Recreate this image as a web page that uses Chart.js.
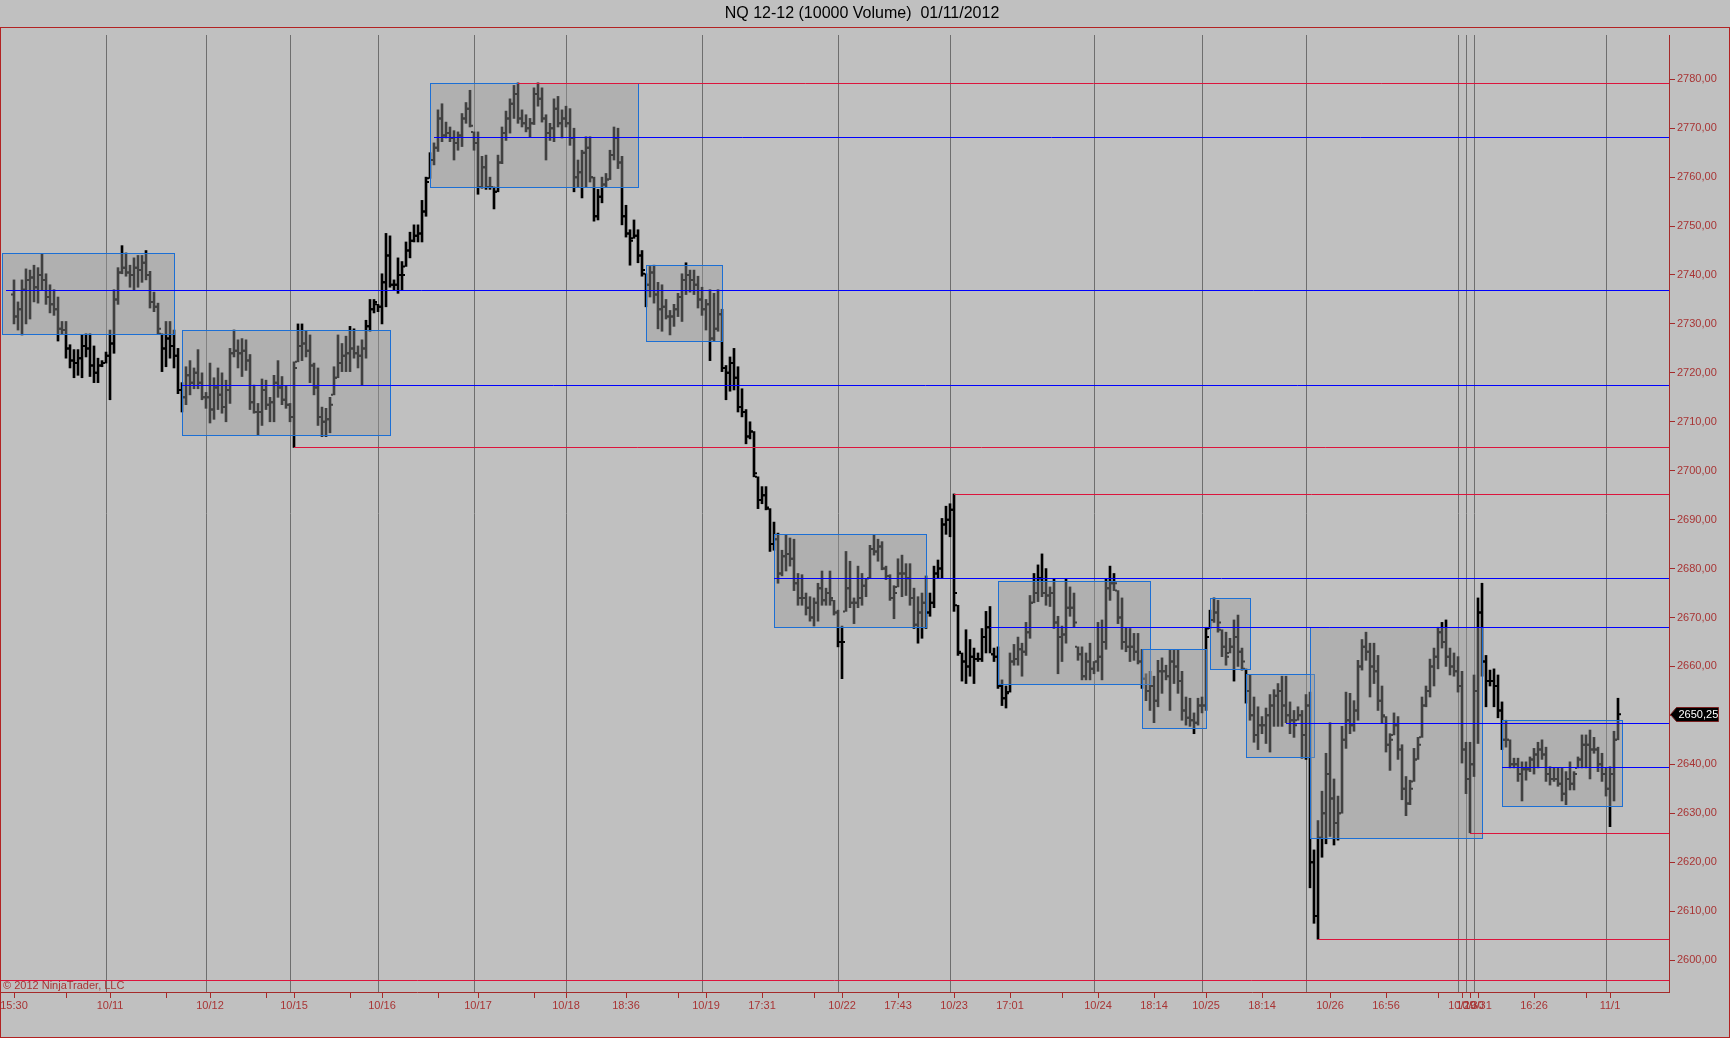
<!DOCTYPE html>
<html>
<head>
<meta charset="utf-8">
<title>NQ 12-12 (10000 Volume) 01/11/2012</title>
<script src="https://cdn.jsdelivr.net/npm/chart.js@4.4.1/dist/chart.umd.min.js"></script>
<style>
  html, body { margin: 0; padding: 0; background: #c0c0c0; }
  #wrap { width: 1730px; height: 1038px; position: relative; }
</style>
</head>
<body>
<div id="wrap"><canvas id="chart" width="1730" height="1038"></canvas></div>
<script>
// NQ 12-12, 10000 volume bars, 15:30 10/10 -> 11/1
const chartTitle = 'NQ 12-12 (10000 Volume)  01/11/2012';

const highs = [
  2739, 2734.5, 2739, 2741.25, 2741, 2742, 2741.5, 2744.25, 2740.25, 2738,
  2737, 2735.5, 2730.5, 2730.5, 2725.75, 2724.75, 2724.75, 2727.75, 2728, 2728,
  2725.5, 2723, 2722.5, 2724.25, 2728.75, 2737, 2741.5, 2746, 2744.5, 2742,
  2743.5, 2744, 2744, 2745, 2740.75, 2736.5, 2734.25, 2728, 2730.5, 2730.5,
  2728.75, 2725, 2718, 2721.25, 2722.5, 2721, 2724.75, 2720, 2716, 2722,
  2719, 2721, 2720, 2718.5, 2725, 2728.75, 2726.75, 2727, 2726.75, 2723.75,
  2717.5, 2713.75, 2718.75, 2718.5, 2715, 2719.5, 2722.5, 2719.25, 2717.25, 2713.75,
  2722.25, 2730, 2730, 2728.5, 2727.75, 2722, 2721, 2713, 2712.75, 2715,
  2721.25, 2727.75, 2726, 2727.5, 2729.5, 2729, 2725.5, 2726.75, 2730.75, 2735,
  2735, 2734, 2740.25, 2748.5, 2748, 2739, 2743.5, 2742.75, 2746.75, 2748.75,
  2750.25, 2750.25, 2755.25, 2760, 2765, 2767, 2773.75, 2775, 2771.25, 2770.25,
  2769.5, 2769.25, 2773, 2775.25, 2777.75, 2769.25, 2769.25, 2764.25, 2764.5, 2760,
  2758, 2764.5, 2770.25, 2773.5, 2776, 2778.75, 2779.25, 2773.75, 2772.75, 2772,
  2778.25, 2779.25, 2778.25, 2772.75, 2771, 2776, 2776.5, 2773.75, 2774.5, 2774,
  2770, 2763.5, 2765.5, 2768.25, 2768.25, 2760, 2757.5, 2760, 2760.75, 2765.5,
  2770.25, 2770, 2764.25, 2754.25, 2749.25, 2751.25, 2749.25, 2745, 2740.25, 2741.75,
  2742, 2738.5, 2738, 2735, 2732.75, 2734, 2736.25, 2740.25, 2742.5, 2741,
  2741, 2739.75, 2737.5, 2735, 2737, 2736.25, 2737, 2733, 2721.5, 2723.25,
  2725, 2721.25, 2716.75, 2712.5, 2710, 2708, 2698.75, 2696.75, 2696.75, 2692.25,
  2689.5, 2687.25, 2683.75, 2687, 2686.25, 2686, 2679, 2678.75, 2675, 2674.25,
  2674, 2677, 2679.5, 2676, 2679.5, 2673.5, 2671.5, 2668.25, 2683.5, 2681.5,
  2674, 2680.5, 2679, 2678, 2684.75, 2687, 2686, 2685.5, 2680.5, 2678.75,
  2676.5, 2682, 2682.75, 2681, 2681, 2676, 2674.25, 2675, 2678.5, 2675,
  2680.5, 2681.75, 2690.25, 2692.75, 2693.25, 2695.25, 2672.5, 2662.75, 2667.5, 2665.5,
  2663.75, 2662.75, 2667.75, 2671.25, 2672.25, 2663.75, 2664, 2657.25, 2656, 2662.75,
  2664.5, 2666, 2664.75, 2669, 2674.5, 2679, 2680.75, 2683, 2680, 2676.25,
  2678, 2670.25, 2668.25, 2678, 2676.25, 2675, 2664, 2664, 2662.75, 2664.75,
  2661, 2669, 2669.5, 2678, 2680.5, 2679, 2675.5, 2674, 2668, 2667.75,
  2666.75, 2666.75, 2663.5, 2658.5, 2659, 2658, 2661.25, 2661.75, 2660.25, 2663.5,
  2663.5, 2663.5, 2659, 2653.75, 2653.5, 2650.5, 2653.5, 2653.75, 2668, 2671.5,
  2674, 2673.5, 2667.5, 2667, 2665.75, 2669.5, 2670.5, 2663.75, 2659.5, 2658.25,
  2653.75, 2651.75, 2649.75, 2651.5, 2654.25, 2655.25, 2656.5, 2658, 2658, 2652.75,
  2651, 2651.75, 2651, 2654.25, 2654.75, 2622.5, 2628.5, 2634.5, 2642.25, 2648.5,
  2637, 2633.5, 2647.75, 2654.75, 2654.5, 2653, 2661.25, 2665.5, 2667, 2664.75,
  2664.75, 2662.25, 2656, 2649.75, 2646.25, 2650.5, 2649.75, 2644, 2637.5, 2636.75,
  2643.25, 2645.5, 2653.75, 2656, 2661.5, 2663.75, 2668, 2669, 2669.5, 2663.75,
  2662.75, 2662, 2659, 2644.5, 2644.5, 2658.25, 2674, 2677, 2662.25, 2659.25,
  2659.5, 2658.25, 2652.75, 2649, 2645, 2641.25, 2641.25, 2640.5, 2640.5, 2641.5,
  2643.25, 2644.5, 2645, 2643.5, 2639.5, 2639.25, 2639.25, 2639.25, 2638.5, 2640.5,
  2638.5, 2641.5, 2646, 2646, 2647, 2645.5, 2643.5, 2642.25, 2639.25, 2639.5,
  2646.75, 2653.5
];

const lows = [
  2730, 2728.75, 2727.75, 2730, 2731, 2734.5, 2734.25, 2737, 2734, 2732.25,
  2731.75, 2726.5, 2728, 2723, 2721, 2719, 2719.5, 2719, 2723.25, 2719.25,
  2718, 2718, 2721.25, 2722, 2714.5, 2724, 2734, 2740.25, 2739.75, 2737.5,
  2737, 2737.5, 2738.5, 2739, 2733.25, 2732.5, 2728, 2720.25, 2721.25, 2723,
  2721, 2715.75, 2712, 2713.5, 2715.5, 2716.75, 2716.75, 2714.5, 2712.75, 2709.75,
  2710.5, 2712.5, 2711.75, 2710, 2713.75, 2723.25, 2721, 2719.25, 2720.5, 2712.5,
  2711.75, 2707.25, 2709.25, 2712.5, 2710, 2710, 2715, 2713.5, 2712.75, 2710,
  2704.75, 2722.25, 2722.5, 2723.25, 2718, 2715.5, 2709.25, 2707, 2707, 2707.75,
  2715.5, 2719, 2720.25, 2720.25, 2720.25, 2723, 2721, 2717.5, 2723, 2728.5,
  2732.25, 2732.5, 2730, 2733.5, 2737.5, 2737, 2736.25, 2737, 2741.75, 2743.5,
  2746.75, 2746.75, 2746.75, 2752, 2759.75, 2762.5, 2765.25, 2767.25, 2768, 2767.25,
  2763.5, 2765.5, 2766.25, 2771, 2770.25, 2765.5, 2756.5, 2757.75, 2757.5, 2757.5,
  2753.5, 2757, 2762.75, 2767.5, 2769, 2772, 2771, 2770.25, 2769.25, 2768.25,
  2770.75, 2774.5, 2771.25, 2763.5, 2767.5, 2767.25, 2770.25, 2768, 2770.25, 2766.5,
  2757, 2758, 2755.75, 2758, 2759, 2751, 2751.25, 2754.75, 2758, 2759.5,
  2763.5, 2761.75, 2750.25, 2747.75, 2742, 2747.5, 2742.5, 2739.75, 2733.5, 2735.5,
  2734.25, 2729, 2728.5, 2731, 2727.75, 2729.5, 2731.5, 2730.5, 2736, 2736.5,
  2736, 2733.25, 2731.75, 2728.75, 2722.5, 2726.5, 2728.5, 2720.25, 2714.5, 2716.25,
  2716.5, 2712, 2711, 2705.5, 2706.5, 2698.75, 2692.25, 2693.25, 2692, 2683.5,
  2683.75, 2677, 2678.5, 2679.5, 2680.5, 2675.5, 2672.5, 2672.5, 2670.5, 2669.25,
  2668.25, 2669.25, 2672.5, 2672.5, 2672.5, 2670.5, 2664, 2657.5, 2671.25, 2672,
  2668.75, 2672, 2672.5, 2674.25, 2678, 2682.75, 2681.5, 2679.75, 2677.75, 2673.5,
  2669.75, 2676.25, 2674.25, 2674.5, 2672.5, 2667.75, 2664.75, 2665.75, 2667.75, 2670.25,
  2672, 2678, 2678, 2687, 2686.5, 2671.25, 2662.25, 2657, 2656.5, 2658,
  2656.5, 2661, 2661, 2662.75, 2662.75, 2661, 2655.5, 2652, 2651.5, 2654.75,
  2660.25, 2660.25, 2658, 2662.25, 2665.75, 2673, 2673.25, 2674.25, 2672.5, 2672.25,
  2667.75, 2658.5, 2661, 2664.75, 2670.25, 2668, 2661.25, 2657.25, 2657.25, 2657.25,
  2658.5, 2659, 2657.25, 2663.5, 2673.5, 2675.5, 2668.75, 2663.5, 2663, 2661,
  2661.25, 2660.5, 2655.5, 2653, 2651, 2648.5, 2651.75, 2654.5, 2657.25, 2651,
  2656.5, 2654.5, 2649, 2648, 2647.75, 2646.25, 2648, 2650.5, 2651, 2667.75,
  2669, 2667, 2662, 2660.25, 2662.75, 2657, 2660, 2659.25, 2652.5, 2649,
  2644.5, 2643, 2646.25, 2644.25, 2642.5, 2647.75, 2647.75, 2647.75, 2648.5, 2646.25,
  2645.5, 2649, 2641.25, 2641, 2614.75, 2607.5, 2604.25, 2621, 2623.75, 2625.25,
  2623.5, 2624.5, 2630, 2643.25, 2646.25, 2646.75, 2649, 2659.25, 2661.25, 2653.75,
  2656.5, 2651, 2648.5, 2642.5, 2638.75, 2646, 2641, 2632.75, 2629.5, 2631.75,
  2636.5, 2641, 2645.5, 2651.75, 2653.75, 2656, 2659.5, 2663.75, 2660, 2658.25,
  2658, 2654.75, 2640.25, 2634, 2626, 2637.5, 2644.25, 2658, 2651.75, 2656,
  2651.75, 2649.5, 2643, 2643.5, 2639.25, 2639.25, 2636.5, 2632.5, 2636.75, 2638.5,
  2638, 2639.25, 2641, 2636.5, 2635.75, 2636.5, 2635.5, 2632.5, 2631.75, 2634.75,
  2634.75, 2639.25, 2639.25, 2639.25, 2637, 2642.25, 2638.5, 2636.5, 2633.5, 2627.25,
  2632.5, 2645
];

const opens = [
  2736, 2731.5, 2733, 2737, 2739, 2739.5, 2737.5, 2740, 2739, 2735.5,
  2734, 2733, 2729, 2728.75, 2725, 2722.5, 2722, 2723, 2725.5, 2725,
  2721.5, 2720, 2721.5, 2722, 2723.5, 2726, 2735, 2740.5, 2741.5, 2740.5,
  2740, 2741.5, 2741, 2742.5, 2740, 2734.5, 2733.5, 2728, 2725, 2727,
  2725.5, 2723.5, 2716.5, 2715, 2719.5, 2718, 2720, 2718, 2715, 2715,
  2712.5, 2717, 2715.5, 2713, 2716.5, 2724, 2724.5, 2724, 2724.5, 2722.5,
  2714, 2712, 2712, 2716.5, 2713.5, 2714, 2718, 2717, 2714.5, 2713.5,
  2711, 2722.25, 2725.5, 2726, 2724.5, 2721.5, 2717, 2711, 2710, 2710.5,
  2715.5, 2719, 2722, 2723.5, 2724, 2725, 2724, 2723.5, 2725, 2729.5,
  2733, 2734, 2733.5, 2738.5, 2744, 2738, 2738, 2740, 2741.75, 2745,
  2747, 2748, 2748.5, 2753, 2759.75, 2763.5, 2766, 2772, 2768.5, 2769,
  2768, 2767, 2768.5, 2772, 2774, 2769.25, 2767, 2758, 2762, 2758,
  2758, 2757, 2763, 2769, 2772, 2775, 2777, 2772, 2771, 2770,
  2771, 2777, 2776, 2772, 2769, 2770, 2774, 2771, 2772, 2771,
  2768, 2760, 2761, 2765, 2766, 2760, 2752, 2756, 2758.5, 2759.5,
  2764.5, 2768, 2763, 2752, 2748.5, 2747.5, 2748, 2744, 2740.25, 2738,
  2740.5, 2736, 2733, 2733.5, 2731.5, 2731.5, 2733, 2735.5, 2739, 2740,
  2739, 2738, 2735, 2733, 2734, 2727, 2729, 2732, 2721, 2720,
  2722, 2719, 2713, 2712, 2707, 2708, 2698.75, 2694, 2695, 2692.25,
  2685, 2686, 2679, 2682.5, 2683, 2682, 2677, 2674, 2674, 2672,
  2670, 2673, 2676, 2673.5, 2675, 2673.5, 2671, 2665, 2671.25, 2676,
  2673, 2673, 2674, 2676.5, 2678, 2684, 2683.5, 2684.5, 2680, 2678.5,
  2674, 2676.25, 2679, 2679, 2678, 2674, 2668.5, 2671, 2673, 2671,
  2673, 2679, 2680, 2689, 2690, 2692, 2672.5, 2662.75, 2661, 2660,
  2662, 2661.5, 2661.5, 2666, 2668, 2662.5, 2662, 2656, 2653.5, 2654.75,
  2661, 2661.5, 2663.5, 2663, 2667, 2673, 2675, 2678, 2675, 2674.5,
  2675, 2669, 2666, 2666.5, 2672, 2672, 2664, 2662.5, 2658, 2661,
  2659.5, 2661, 2662, 2665, 2676, 2677, 2675.5, 2670, 2665, 2664,
  2664, 2663, 2661, 2657.5, 2655, 2656, 2653, 2659, 2659, 2658,
  2661, 2660, 2657, 2651, 2649.5, 2649, 2648.5, 2652, 2652, 2667.75,
  2669.5, 2671, 2667.5, 2664, 2662.75, 2664, 2666, 2663, 2659.5, 2655,
  2650, 2646, 2648, 2648, 2650, 2652, 2654, 2655, 2652, 2650,
  2649, 2649, 2650, 2646, 2652, 2620, 2609, 2625, 2630, 2638,
  2633, 2628, 2630, 2645, 2649, 2648, 2651, 2660, 2664, 2663,
  2660, 2659, 2653, 2649.75, 2644, 2646, 2648, 2643, 2635, 2632,
  2636.5, 2641, 2645.5, 2652, 2655, 2660, 2662, 2667, 2665, 2662,
  2660, 2659, 2656, 2643, 2637, 2640, 2655, 2671, 2661, 2657,
  2657, 2656, 2651, 2645, 2645, 2640, 2640, 2638, 2639, 2639,
  2641, 2642, 2643, 2642, 2638, 2637, 2637, 2636, 2634, 2637,
  2636, 2639.25, 2641, 2644, 2644, 2643, 2643, 2640, 2638, 2635,
  2638, 2645
];

const closes = [
  2731.5, 2733, 2737, 2739, 2739.5, 2737.5, 2740, 2739, 2735.5, 2734,
  2733, 2729, 2728.75, 2725, 2722.5, 2722, 2723, 2725.5, 2725, 2721.5,
  2720, 2721.5, 2722, 2723.5, 2726, 2735, 2740.5, 2741.5, 2740.5, 2740,
  2741.5, 2741, 2742.5, 2740, 2734.5, 2733.5, 2729, 2725, 2727, 2725.5,
  2723.5, 2716.5, 2715, 2719.5, 2718, 2720, 2718, 2715, 2715, 2712.5,
  2717, 2715.5, 2713, 2716.5, 2724, 2724.5, 2724, 2724.5, 2722.5, 2714,
  2712, 2712, 2716.5, 2713.5, 2714, 2718, 2717, 2714.5, 2713.5, 2711,
  2721, 2725.5, 2726, 2724.5, 2721.5, 2717, 2711, 2710, 2710.5, 2713.5,
  2719, 2722, 2723.5, 2724, 2725, 2724, 2723.5, 2725, 2729.5, 2733,
  2734.5, 2733.5, 2738.5, 2744, 2738, 2738, 2740, 2740, 2745, 2747,
  2748, 2748.5, 2753, 2759, 2763.5, 2766, 2772, 2768.5, 2769, 2768,
  2767, 2768.5, 2772, 2774, 2770.5, 2767, 2758, 2762, 2758, 2758,
  2757, 2763, 2769, 2772, 2775, 2777, 2772, 2771, 2770, 2771,
  2777, 2776, 2772, 2769, 2770, 2774, 2771, 2772, 2771, 2768,
  2760, 2761, 2765, 2766, 2760, 2752, 2756, 2758.5, 2759.5, 2764.5,
  2768, 2763, 2752, 2748.5, 2747, 2748, 2744, 2741, 2738, 2740.5,
  2736, 2733, 2733.5, 2731.5, 2731.5, 2733, 2735.5, 2739, 2740, 2739,
  2738, 2735, 2733, 2734, 2727, 2729, 2732, 2721, 2720, 2722,
  2719, 2713, 2712, 2707, 2708, 2699.5, 2694, 2695, 2692.5, 2685,
  2686, 2679, 2682.5, 2683, 2682, 2677, 2674, 2674, 2672, 2670,
  2673, 2676, 2673.5, 2675, 2674, 2671, 2665, 2665, 2676, 2673,
  2673, 2674, 2676.5, 2678, 2684, 2683.5, 2684.5, 2680, 2678.5, 2674,
  2675, 2679, 2679, 2678, 2674, 2668.5, 2671, 2673, 2671, 2673,
  2679, 2680, 2689, 2690, 2692, 2675, 2663, 2661, 2660, 2662,
  2661.5, 2661.5, 2666, 2668, 2662.5, 2662, 2656, 2653.5, 2654.5, 2661,
  2661.5, 2663.5, 2663, 2667, 2673, 2675, 2678, 2675, 2674.5, 2675,
  2669, 2666, 2666.5, 2672, 2672, 2669, 2662.5, 2658, 2661, 2659.5,
  2661, 2662, 2665, 2676, 2677, 2677, 2670, 2665, 2664, 2664,
  2663, 2661, 2657.5, 2655, 2656, 2653, 2659, 2659, 2658, 2661,
  2660, 2657, 2651, 2649.5, 2649, 2648.5, 2652, 2652, 2666, 2669.5,
  2671, 2669, 2664, 2662, 2664, 2666, 2663, 2661, 2655, 2650,
  2646, 2648, 2648, 2650, 2652, 2654, 2655, 2652, 2650, 2649,
  2648, 2650, 2646, 2652, 2620, 2609, 2625, 2630, 2638, 2633,
  2628, 2630, 2645, 2649, 2648, 2651, 2660, 2664, 2663, 2660,
  2659, 2653, 2650, 2644, 2645, 2648, 2643, 2635, 2632, 2635,
  2641, 2644, 2652, 2655, 2660, 2662, 2667, 2665, 2662, 2660,
  2659, 2656, 2643, 2637, 2640, 2655, 2671, 2661, 2657, 2657,
  2656, 2651, 2645, 2645, 2640, 2640, 2638, 2639, 2639, 2641,
  2642, 2643, 2642, 2638, 2637, 2637, 2636, 2634, 2637, 2636,
  2638, 2641, 2644, 2644, 2643, 2643, 2640, 2638, 2635, 2638,
  2645, 2650.25
];

// x axis (bar index) tick positions and their labels
const timeTickIdx = [0, 13, 24, 38, 49, 63, 70, 84, 92, 106, 116, 130, 138, 153, 166, 173, 187, 200,
  207, 221, 235, 249, 262, 271, 285, 298, 312, 329, 343, 356, 362, 364, 366, 380, 393, 399];
const timeLabels = ['15:30', '', '10/11', '', '10/12', '', '10/15', '', '10/16', '', '10/17', '', '10/18', '18:36', '', '10/19', '17:31', '',
  '10/22', '17:43', '10/23', '17:01', '', '10/24', '18:14', '10/25', '18:14', '10/26', '16:56', '', '10/29', '10/30', '10/31', '16:26', '', '11/1'];

// session separators (bar index)
const sessionBreaks = [23.1, 48.1, 69.05, 91.1, 115.1, 138.15, 172.1, 206.1, 234.1, 270.15, 297.1, 323.15, 361.2, 363.15, 365.1, 398.1];

// price axis labels
const priceTicks = [2600, 2610, 2620, 2630, 2640, 2650, 2660, 2670, 2680, 2690, 2700, 2710, 2720, 2730, 2740, 2750, 2760, 2770, 2780];

// balance zones (bar index range, price range)
const zoneStart = [-3, 42, 104, 158, 190, 246, 282, 299, 308, 324, 372];
const zoneEnd = [40, 94, 156, 177, 228, 284, 298, 309, 325, 367, 402];
const zoneHigh = [2744.5, 2728.75, 2779.25, 2742, 2687, 2677.5, 2663.5, 2674, 2658.5, 2668, 2649];
const zoneLow = [2728, 2707.25, 2758, 2726.5, 2668, 2656.5, 2647.5, 2659.5, 2641.5, 2625, 2631.5];

// horizontal levels: price, first bar index, kind
const levelPrice = [2779.25, 2768.25, 2737, 2717.5, 2704.75, 2695.25, 2678, 2668, 2648.5, 2639.5, 2626, 2604.25, 2596];
const levelFrom = [126, 105, -2, 42, 70, 235, 190, 244, 318, 372, 364, 326, -3.5];
const levelKind = ['hi', 'mid', 'mid', 'mid', 'lo', 'hi', 'mid', 'mid', 'mid', 'mid', 'lo', 'lo', 'lo'];

const lastPrice = closes[closes.length - 1];

if (highs.length !== lows.length || opens.length !== lows.length || closes.length !== lows.length) {
    throw new Error('length mismatch ' + [highs.length, lows.length, opens.length, closes.length].join(','));
}

const AXIS_RED = '#a52a2a';
const LABEL_RED = '#a83434';
const FONT = 'Liberation Sans, Arial, sans-serif';
const levelColors = { hi: '#dc143c', lo: '#dc143c', mid: '#0000ff' };

const crisp = v => Math.round(v) + 0.5;

const ninjaPlugin = {
    id: 'ninja',
    beforeDraw(chart) {
        const ctx = chart.ctx;
        ctx.save();
        ctx.fillStyle = '#c0c0c0';
        ctx.fillRect(0, 0, chart.width, chart.height);
        ctx.restore();
    },
    beforeDatasetsDraw(chart) {
        const { ctx, chartArea: a, scales: { x } } = chart;
        ctx.save();
        ctx.strokeStyle = '#6e6e6e';
        ctx.lineWidth = 1;
        sessionBreaks.forEach(v => {
            const px = crisp(x.getPixelForValue(v) - 0.5);
            ctx.beginPath();
            ctx.moveTo(px, a.top);
            ctx.lineTo(px, a.bottom);
            ctx.stroke();
        });
        ctx.restore();
    },
    afterDatasetsDraw(chart) {
        const { ctx, chartArea: a, scales: { x, y } } = chart;
        ctx.save();
        // zone fills darken whatever is underneath
        zoneStart.forEach((s, i) => {
            const l = crisp(x.getPixelForValue(s)), r = crisp(x.getPixelForValue(zoneEnd[i]));
            const t = crisp(y.getPixelForValue(zoneHigh[i])), b = crisp(y.getPixelForValue(zoneLow[i]));
            ctx.fillStyle = 'rgba(154,154,154,0.42)';
            ctx.fillRect(l, t, r - l, b - t);
            ctx.strokeStyle = '#1c6fd4';
            ctx.lineWidth = 1;
            ctx.strokeRect(l, t, r - l, b - t);
        });
        // levels
        levelPrice.forEach((p, i) => {
            const py = crisp(y.getPixelForValue(p));
            ctx.strokeStyle = levelColors[levelKind[i]];
            ctx.lineWidth = 1;
            ctx.beginPath();
            ctx.moveTo(Math.max(a.left, x.getPixelForValue(levelFrom[i])), py);
            ctx.lineTo(a.right, py);
            ctx.stroke();
        });
        ctx.restore();
    },
    afterDraw(chart) {
        const { ctx, scales: { y } } = chart;
        ctx.save();
        // title
        ctx.fillStyle = '#000';
        ctx.font = '16px ' + FONT;
        ctx.textAlign = 'center';
        ctx.textBaseline = 'middle';
        ctx.fillText(chartTitle, 862, 14);
        // frame
        ctx.strokeStyle = '#b22222';
        ctx.lineWidth = 1;
        ctx.strokeRect(0.5, 27.5, 1729, 1010);
        // copyright
        ctx.fillStyle = LABEL_RED;
        ctx.font = '11px ' + FONT;
        ctx.textAlign = 'left';
        ctx.fillText('\u00a9 2012 NinjaTrader, LLC', 3, 986);
        // last price marker
        const py = Math.round(y.getPixelForValue(lastPrice)) + 0.5;
        const ax = chart.chartArea.right + 1.5;
        ctx.beginPath();
        ctx.moveTo(ax, py);
        ctx.lineTo(ax + 6, py - 7);
        ctx.lineTo(ax + 48, py - 7);
        ctx.lineTo(ax + 48, py + 7);
        ctx.lineTo(ax + 6, py + 7);
        ctx.closePath();
        ctx.fillStyle = '#000';
        ctx.fill();
        ctx.strokeStyle = '#7a2020';
        ctx.stroke();
        ctx.fillStyle = '#fff';
        ctx.font = '11px ' + FONT;
        ctx.textBaseline = 'middle';
        ctx.fillText(lastPrice.toFixed(2).replace('.', ','), ax + 8, py + 0.5);
        ctx.restore();
    }
};

const barData = lows.map((l, i) => ({ x: i, y: [l, highs[i]] }));
const openData = opens.map((v, i) => ({ x: i - 0.5, y: v }));
const closeData = closes.map((v, i) => ({ x: i + 0.5, y: v }));

const ctx = document.getElementById('chart').getContext('2d');
const chart = new Chart(ctx, {
    type: 'bar',
    data: {
        datasets: [{
            type: 'bar',
            data: barData,
            backgroundColor: '#000',
            borderWidth: 0,
            barThickness: 2,
            grouped: false
        }, {
            type: 'line',
            data: openData,
            showLine: false,
            borderWidth: 0,
            pointStyle: 'line',
            pointRadius: 1,
            pointBorderWidth: 2,
            pointBorderColor: '#000',
            pointBackgroundColor: '#000',
            pointHoverRadius: 1
        }, {
            type: 'line',
            data: closeData,
            showLine: false,
            borderWidth: 0,
            pointStyle: 'line',
            pointRadius: 1,
            pointBorderWidth: 2,
            pointBorderColor: '#000',
            pointBackgroundColor: '#000',
            pointHoverRadius: 1
        }]
    },
    options: {
        responsive: false,
        devicePixelRatio: 1,
        animation: false,
        events: [],
        layout: { autoPadding: false, padding: { top: 35, left: 0, right: 0, bottom: 0 } },
        plugins: {
            legend: { display: false },
            tooltip: { enabled: false },
            title: { display: false }
        },
        scales: {
            x: {
                type: 'linear',
                min: -3.5,
                max: 413.75,
                bounds: 'data',
                offset: false,
                afterBuildTicks: s => { s.ticks = timeTickIdx.map(v => ({ value: v })); },
                afterFit: s => { s.height = 46; s.paddingLeft = 0; s.paddingRight = 0; },
                ticks: {
                    autoSkip: false,
                    maxRotation: 0,
                    minRotation: 0,
                    padding: 1,
                    color: LABEL_RED,
                    font: { family: FONT, size: 11 },
                    callback: (v, i) => timeLabels[i]
                },
                grid: { offset: false, drawOnChartArea: false, drawTicks: true, tickLength: 6, color: AXIS_RED },
                border: { color: AXIS_RED, width: 1 }
            },
            y: {
                type: 'linear',
                position: 'right',
                min: 2593.46,
                max: 2789.05,
                bounds: 'data',
                afterBuildTicks: s => { s.ticks = priceTicks.map(v => ({ value: v })); },
                afterFit: s => { s.width = 61; },
                ticks: {
                    padding: 2,
                    color: LABEL_RED,
                    font: { family: FONT, size: 11 },
                    callback: v => Number(v).toFixed(2).replace('.', ',')
                },
                grid: { drawOnChartArea: false, drawTicks: true, tickLength: 6, color: AXIS_RED },
                border: { color: AXIS_RED, width: 1 }
            }
        }
    },
    plugins: [ninjaPlugin]
});
</script>
</body>
</html>
